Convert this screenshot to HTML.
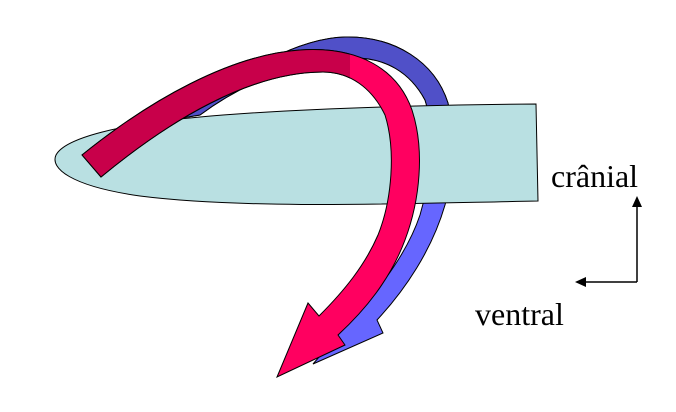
<!DOCTYPE html>
<html><head><meta charset="utf-8"><style>
html,body{margin:0;padding:0;background:#fff;}
svg{display:block;}
text{font-family:"Liberation Serif",serif;font-size:32px;fill:#000;}
</style></head><body>
<svg width="676" height="412" viewBox="0 0 676 412">
<defs>
<clipPath id="blueTop"><rect x="0" y="0" width="676" height="150"/></clipPath>
<clipPath id="redLeft"><polygon points="0,0 350,0 350,110 0,260"/></clipPath>
</defs>
<g>
<path d="M182,118 C240,70 300,38 345,37 C395,36 435,62 448,103 C455,140 452,180 445,205 C432,250 405,290 377,320 L383,333 L313,364 L338,335 C370,300 405,260 420,215 C432,175 435,130 425,100 C410,72 385,58 355,58 C300,58 240,85 200,115 Z" fill="#6666ff" stroke="#000" stroke-width="1"/>
<path d="M182,118 C240,70 300,38 345,37 C395,36 435,62 448,103 C455,140 452,180 445,205 C432,250 405,290 377,320 L383,333 L313,364 L338,335 C370,300 405,260 420,215 C432,175 435,130 425,100 C410,72 385,58 355,58 C300,58 240,85 200,115 Z" fill="#5050c8" stroke="#000" stroke-width="1" clip-path="url(#blueTop)"/>
</g>
<path d="M536,104 L538,201 C420,203 250,210 140,196 C70,186 50,168 56,155 C65,138 120,124 200,117 C300,108 430,105 536,104 Z" fill="#b9e0e2" stroke="#000" stroke-width="1"/>
<g>
<path d="M82,155 C150,100 230,55 300,50 C360,46 398,70 412,110 C425,150 420,200 405,240 C390,280 365,310 338,335 L345,345 L277,377 L308,303 L319,316 C345,290 365,265 378,235 C392,200 396,150 385,115 C372,88 350,72 323,72 C250,72 170,120 101,177 Z" fill="#ff0060" stroke="#000" stroke-width="1"/>
<path d="M82,155 C150,100 230,55 300,50 C360,46 398,70 412,110 C425,150 420,200 405,240 C390,280 365,310 338,335 L345,345 L277,377 L308,303 L319,316 C345,290 365,265 378,235 C392,200 396,150 385,115 C372,88 350,72 323,72 C250,72 170,120 101,177 Z" fill="#c8004a" stroke="#000" stroke-width="1" clip-path="url(#redLeft)"/>
</g>
<text x="551" y="187">crânial</text>
<text x="475" y="325">ventral</text>
<g stroke="#000" stroke-width="1.5" fill="none">
<path d="M637,282 L637,204 M637,282 L584,282"/>
</g>
<polygon points="637,196 632,207 642,207" fill="#000"/>
<polygon points="575,282 586,277 586,287" fill="#000"/>
</svg>
</body></html>
